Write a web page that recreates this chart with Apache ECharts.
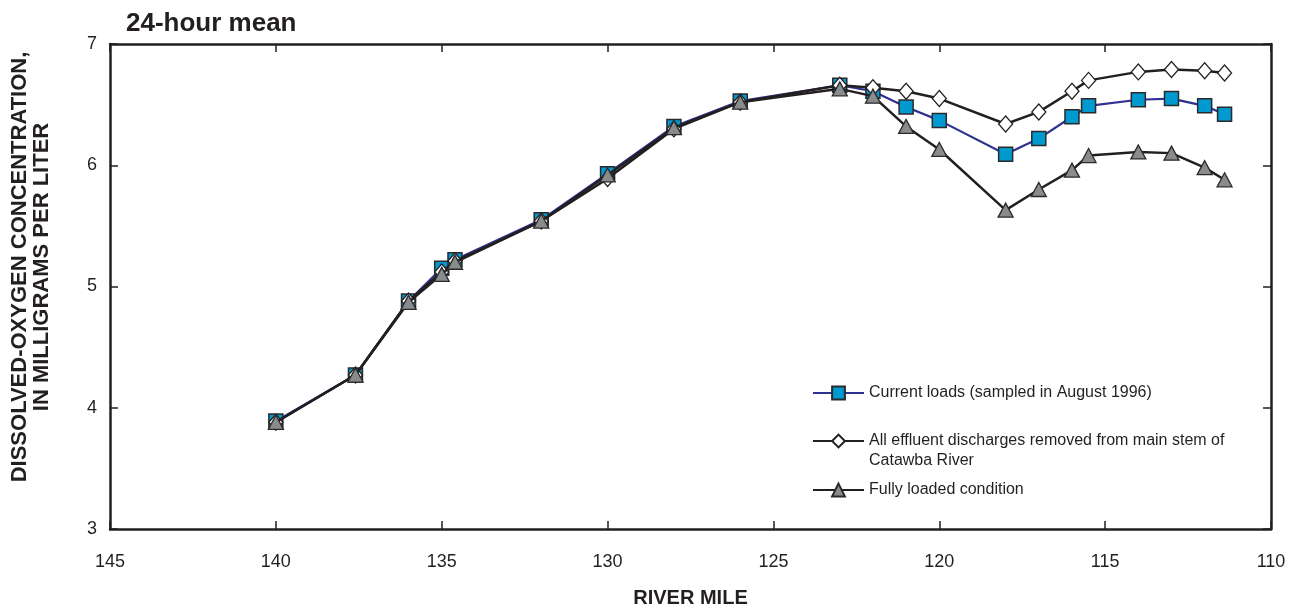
<!DOCTYPE html>
<html>
<head>
<meta charset="utf-8">
<script src="https://cdn.jsdelivr.net/npm/echarts@6/dist/echarts.min.js"></script>
<style>
html,body{margin:0;padding:0;background:#fff;}
#chart{width:1302px;height:610px;}
</style>
</head>
<body>
<div id="chart"></div>
<script>
// River mile of each sampling point
const riverMiles = [140, 137.6, 136, 135, 134.6, 132, 130, 128, 126, 123, 122, 121, 120, 118, 117, 116, 115.5, 114, 113, 112, 111.4];
// Dissolved-oxygen, mg/L
const currentLoads = [3.89, 4.27, 4.88, 5.15, 5.22, 5.55, 5.93, 6.32, 6.53, 6.66, 6.61, 6.48, 6.37, 6.09, 6.22, 6.40, 6.49, 6.54, 6.55, 6.49, 6.42];
const effluentRemoved = [3.88, 4.27, 4.88, 5.12, 5.21, 5.54, 5.89, 6.30, 6.52, 6.66, 6.64, 6.61, 6.55, 6.34, 6.44, 6.61, 6.70, 6.77, 6.79, 6.78, 6.76];
const fullyLoaded = [3.88, 4.27, 4.87, 5.10, 5.20, 5.54, 5.92, 6.31, 6.52, 6.63, 6.57, 6.32, 6.13, 5.63, 5.80, 5.96, 6.08, 6.11, 6.10, 5.98, 5.88];

const seriesNames = [
  'Current loads (sampled in August 1996)',
  'All effluent discharges removed from main stem of\nCatawba River',
  'Fully loaded condition'
];
const titleText = '24-hour mean';
const xAxisName = 'RIVER MILE';
const yAxisName = 'DISSOLVED-OXYGEN CONCENTRATION,\nIN MILLIGRAMS PER LITER';

const FONT = '"Liberation Sans", Arial, Helvetica, sans-serif';
const INK = '#231f20';

function pairs(ys) { return riverMiles.map((x, i) => [x, ys[i]]); }

const chart = echarts.init(document.getElementById('chart'), null, {renderer: 'canvas'});

const axisLine = {show: true, onZero: false, lineStyle: {color: INK, width: 2.5}};
const axisTick = {show: true, inside: true, length: 8, lineStyle: {color: INK, width: 1.5}};

function legendFor(i, top, formatter) {
  const lg = {
    data: [seriesNames[i]],
    orient: 'vertical',
    left: 812,
    top: top,
    padding: 0,
    itemWidth: 51,
    itemHeight: 16,
    itemGap: 5,
    selectedMode: false,
    textStyle: {fontFamily: FONT, fontSize: 16, color: INK, lineHeight: 20}
  };
  if (formatter) lg.formatter = formatter;
  return lg;
}

chart.setOption({
  animation: false,
  backgroundColor: '#ffffff',
  title: {
    text: titleText,
    left: 121,
    top: 6,
    textStyle: {fontFamily: FONT, fontSize: 26, fontWeight: 'bold', color: INK}
  },
  grid: {left: 110, right: 31, top: 44, bottom: 81, containLabel: false, outerBoundsMode: 'none'},
  legend: [
    legendFor(0, 383),
    legendFor(1, 411, function (name) { return '\n' + name; }),
    legendFor(2, 480)
  ],
  xAxis: [{
    type: 'value', min: 110, max: 145, interval: 5, inverse: true,
    position: 'bottom',
    axisLine: axisLine, axisTick: axisTick,
    splitLine: {show: false},
    axisLabel: {fontFamily: FONT, fontSize: 18, color: INK, margin: 24},
    name: xAxisName, nameLocation: 'middle', nameGap: 59,
    nameTextStyle: {fontFamily: FONT, fontSize: 20, fontWeight: 'bold', color: INK}
  }, {
    type: 'value', min: 110, max: 145, interval: 5, inverse: true,
    position: 'top',
    axisLine: axisLine, axisTick: axisTick,
    splitLine: {show: false},
    axisLabel: {show: false}
  }],
  yAxis: [{
    type: 'value', min: 3, max: 7, interval: 1,
    position: 'left',
    axisLine: axisLine, axisTick: axisTick,
    splitLine: {show: false},
    axisLabel: {fontFamily: FONT, fontSize: 18, color: INK, margin: 13}
  }, {
    type: 'value', min: 3, max: 7, interval: 1,
    position: 'right',
    axisLine: axisLine, axisTick: axisTick,
    splitLine: {show: false},
    axisLabel: {show: false}
  }],
  graphic: [{
    type: 'text',
    x: 31, y: 267,
    rotation: Math.PI / 2,
    style: {
      text: yAxisName,
      fontFamily: FONT, fontSize: 22, fontWeight: 'bold',
      fill: INK, align: 'center', verticalAlign: 'middle', lineHeight: 22
    }
  }],
  series: [{
    name: seriesNames[0],
    type: 'line',
    data: pairs(currentLoads),
    symbol: 'rect', symbolSize: 14,
    lineStyle: {color: '#2e3192', width: 2.2},
    itemStyle: {color: '#0099d0', borderColor: '#2a2a2a', borderWidth: 1.5},
    z: 2
  }, {
    name: seriesNames[1],
    type: 'line',
    data: pairs(effluentRemoved),
    symbol: 'diamond', symbolSize: [14, 16],
    lineStyle: {color: INK, width: 2.5},
    itemStyle: {color: '#ffffff', borderColor: INK, borderWidth: 1.3},
    z: 3
  }, {
    name: seriesNames[2],
    type: 'line',
    data: pairs(fullyLoaded),
    symbol: 'triangle', symbolSize: [15, 14],
    lineStyle: {color: INK, width: 2.5},
    itemStyle: {color: '#8a8b8d', borderColor: '#2a2a2a', borderWidth: 1.3},
    z: 4
  }]
});
</script>
</body>
</html>
